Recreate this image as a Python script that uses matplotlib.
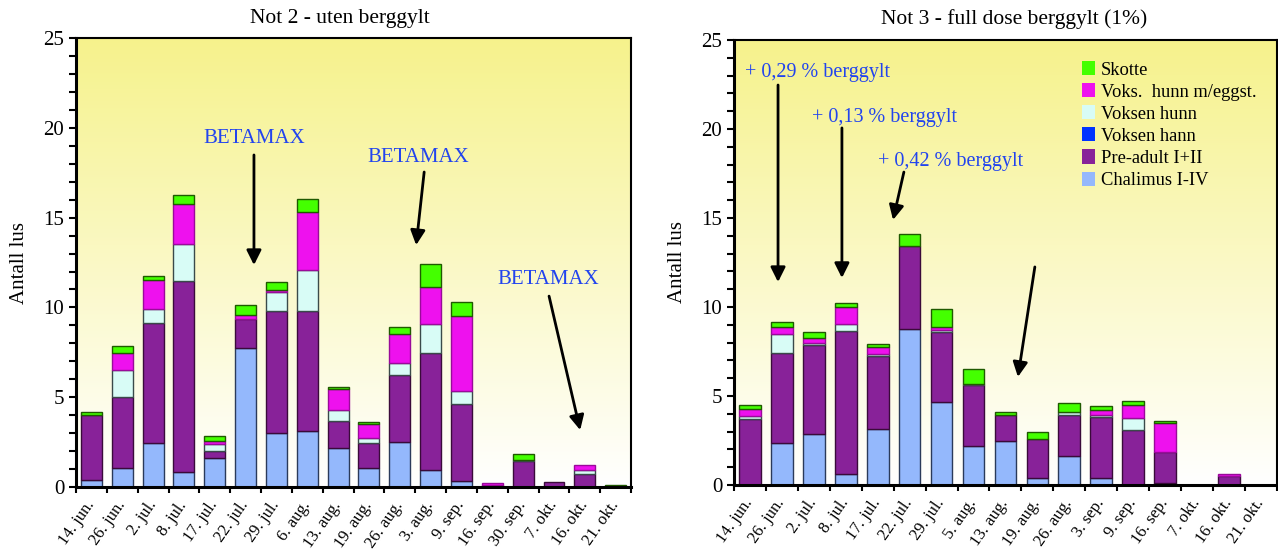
import numpy as np
import matplotlib
matplotlib.use("Agg")
import matplotlib.pyplot as plt
from matplotlib.patches import Patch
from matplotlib.colors import LinearSegmentedColormap

plt.rcParams["font.family"] = ["Liberation Serif", "DejaVu Serif"]

# Not 2 - uten berggylt
dates_n2 = ['14. jun.', '26. jun.', '2. jul.', '8. jul.', '17. jul.', '22. jul.',
            '29. jul.', '6. aug.', '13. aug.', '19. aug.', '26. aug.', '3. aug.',
            '9. sep.', '16. sep.', '30. sep.', '7. okt.', '16. okt.', '21. okt.']
chalimus_n2 = [0.4, 1.04, 2.46, 0.84, 1.59, 7.72, 3.0, 3.1, 2.18, 1.04, 2.48, 0.94, 0.33, 0, 0, 0, 0, 0]
preadult_n2 = [3.6, 3.97, 6.68, 10.61, 0.43, 1.61, 6.78, 6.68, 1.49, 1.42, 3.77, 6.53, 4.29, 0.1, 1.43, 0.3, 0.7, 0]
hann_n2 = [0] * 18
hunn_n2 = [0, 1.53, 0.78, 2.07, 0.36, 0, 1.08, 2.3, 0.61, 0.29, 0.63, 1.59, 0.74, 0, 0.05, 0, 0.24, 0]
hunnegg_n2 = [0, 0.93, 1.63, 2.26, 0.19, 0.26, 0.1, 3.26, 1.18, 0.75, 1.63, 2.1, 4.17, 0.1, 0, 0, 0.3, 0]
skotte_n2 = [0.2, 0.39, 0.2, 0.47, 0.28, 0.55, 0.43, 0.71, 0.1, 0.1, 0.39, 1.24, 0.78, 0, 0.35, 0, 0, 0.1]

# Not 3 - full dose berggylt (1%)
dates_n3 = ['14. jun.', '26. jun.', '2. jul.', '8. jul.', '17. jul.', '22. jul.',
            '29. jul.', '5. aug.', '13. aug.', '19. aug.', '26. aug.', '3. sep.',
            '9. sep.', '16. sep.', '7. okt.', '16. okt.', '21. okt.']
chalimus_n3 = [0, 2.38, 2.89, 0.61, 3.13, 8.77, 4.65, 2.18, 2.46, 0.4, 1.64, 0.4, 0, 0.12, 0, 0, 0]
preadult_n3 = [3.72, 5.05, 4.99, 8.06, 4.12, 4.66, 3.92, 3.42, 1.46, 2.19, 2.28, 3.42, 3.09, 1.74, 0, 0.51, 0]
hann_n3 = [0] * 17
hunn_n3 = [0.14, 1.05, 0.1, 0.4, 0.1, 0, 0.16, 0.05, 0, 0, 0.16, 0.1, 0.69, 0, 0, 0, 0]
hunnegg_n3 = [0.4, 0.39, 0.26, 0.93, 0.39, 0, 0.14, 0.05, 0, 0, 0, 0.3, 0.73, 1.63, 0, 0.1, 0]
skotte_n3 = [0.25, 0.3, 0.33, 0.22, 0.2, 0.69, 1.03, 0.8, 0.2, 0.36, 0.53, 0.2, 0.2, 0.09, 0, 0, 0]

stages = ['Chalimus I-IV', 'Pre-adult I+II', 'Voksen hann', 'Voksen hunn',
          'Voks.  hunn m/eggst.', 'Skotte']
faces = ['#94b8fc', '#882299', '#0033ff', '#d8fcf6', '#ee11ee', '#44ff00']
edges = ['#2a3a5a', '#3a0a3a', '#001a80', '#3a4a4a', '#9a0a9a', '#1f5a00']

bg = LinearSegmentedColormap.from_list('bg', ['#ffffff', '#f6f28c'])


def draw_panel(ax, dates, series, title, title_x):
    x = np.arange(len(dates))
    grad = np.linspace(0, 1, 256).reshape(-1, 1)
    ax.imshow(grad, extent=[0, 1, 0, 1], transform=ax.transAxes, origin='lower',
              aspect='auto', cmap=bg, zorder=0)
    bottom = np.zeros(len(dates))
    for vals, fc, ec in zip(series, faces, edges):
        vals = np.array(vals, dtype=float)
        m = vals > 0
        ax.bar(x[m], vals[m], bottom=bottom[m], width=0.68, color=fc,
               edgecolor=ec, linewidth=1.0, zorder=2)
        bottom += vals
    ax.set_xlim(-0.5, len(dates) - 0.5)
    ax.set_ylim(0, 25)
    ax.set_yticks(np.arange(0, 26, 5))
    ax.set_yticks(np.arange(0, 26, 1), minor=True)
    ax.set_xticks(x)
    ax.set_xticklabels(dates, rotation=55, ha='right', va='center',
                       rotation_mode='anchor', fontsize=12)
    ax.set_xticks(np.arange(len(dates) + 1) - 0.5, minor=True)
    ax.tick_params(axis='x', which='major', length=0, pad=11)
    ax.tick_params(axis='x', which='minor', length=4, width=1.5, direction='out')
    ax.tick_params(axis='y', which='both', length=5, width=1.5, direction='out',
                   labelsize=15)
    ax.set_ylabel('Antall lus', fontsize=15, labelpad=10)
    for s in ax.spines.values():
        s.set_linewidth(1.5)
    ax.spines['left'].set_linewidth(2.2)
    ax.spines['bottom'].set_linewidth(2.2)
    fig.text(title_x, 0.966, title, ha='center', va='center', fontsize=15.5)


fig = plt.figure(figsize=(12.78, 5.53), dpi=100)
ax1 = fig.add_axes([0.0595, 0.1193, 0.4343, 0.8119])
ax2 = fig.add_axes([0.5743, 0.1230, 0.4249, 0.8047])

draw_panel(ax1, dates_n2,
           [chalimus_n2, preadult_n2, hann_n2, hunn_n2, hunnegg_n2, skotte_n2],
           'Not 2 - uten berggylt', 340 / 1278)
draw_panel(ax2, dates_n3,
           [chalimus_n3, preadult_n3, hann_n3, hunn_n3, hunnegg_n3, skotte_n3],
           'Not 3 - full dose berggylt (1%)', 1014 / 1278)

arrow = dict(arrowstyle='-|>', lw=2, color='black', mutation_scale=22,
             shrinkA=0, shrinkB=0)
blue = '#2244ee'

# BETAMAX-behandlinger, Not 2
ax1.text(5.27, 19.43, 'BETAMAX', color=blue, fontsize=15, ha='center', va='center', zorder=4)
ax1.annotate('', xy=(5.27, 12.36), xytext=(5.27, 18.49), arrowprops=arrow, zorder=4)
ax1.text(10.59, 18.37, 'BETAMAX', color=blue, fontsize=15, ha='center', va='center', zorder=4)
ax1.annotate('', xy=(10.53, 13.47), xytext=(10.79, 17.54), arrowprops=arrow, zorder=4)
ax1.text(14.81, 11.53, 'BETAMAX', color=blue, fontsize=15, ha='center', va='center', zorder=4)
ax1.annotate('', xy=(15.85, 3.17), xytext=(14.84, 10.63), arrowprops=arrow, zorder=4)

# utsett berggylt, Not 3
ax2.text(-0.16, 23.15, '+ 0,29 % berggylt', color=blue, fontsize=14.5, ha='left', va='center', zorder=4)
ax2.annotate('', xy=(0.88, 11.4), xytext=(0.88, 22.47), arrowprops=arrow, zorder=4)
ax2.text(1.94, 20.67, '+ 0,13 % berggylt', color=blue, fontsize=14.5, ha='left', va='center', zorder=4)
ax2.annotate('', xy=(2.88, 11.63), xytext=(2.88, 20.06), arrowprops=arrow, zorder=4)
ax2.text(4.01, 18.2, '+ 0,42 % berggylt', color=blue, fontsize=14.5, ha='left', va='center', zorder=4)
ax2.annotate('', xy=(4.48, 14.89), xytext=(4.82, 17.58), arrowprops=arrow, zorder=4)
ax2.annotate('', xy=(8.39, 6.07), xytext=(8.92, 12.25), arrowprops=arrow, zorder=4)

handles = [Patch(facecolor=fc, edgecolor='none') for fc in faces][::-1]
ax2.legend(handles, stages[::-1], loc='upper left', bbox_to_anchor=(0.611, 0.99),
           frameon=False, fontsize=13.3, handlelength=0.7, handleheight=0.8,
           handletextpad=0.3, labelspacing=0.25)

fig.savefig('out.png', dpi=100)
